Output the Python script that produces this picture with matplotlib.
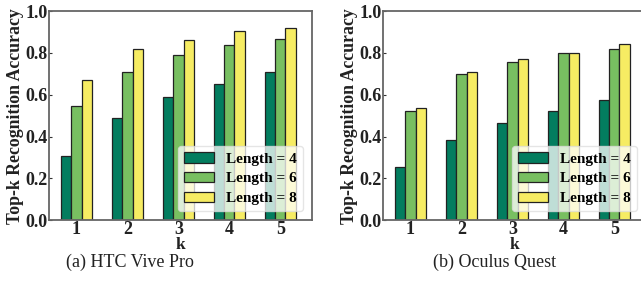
import matplotlib
matplotlib.use("Agg")
import matplotlib.pyplot as plt
import numpy as np

k_values = [1, 2, 3, 4, 5]
series_labels = ["Length = 4", "Length = 6", "Length = 8"]

htc_len4 = [0.308, 0.488, 0.587, 0.652, 0.710]
htc_len6 = [0.545, 0.711, 0.789, 0.839, 0.868]
htc_len8 = [0.673, 0.817, 0.864, 0.903, 0.919]

quest_len4 = [0.252, 0.381, 0.463, 0.522, 0.574]
quest_len6 = [0.523, 0.697, 0.759, 0.802, 0.821]
quest_len8 = [0.537, 0.707, 0.772, 0.802, 0.845]

captions = ["(a) HTC Vive Pro", "(b) Oculus Quest"]

plt.rcParams['font.family'] = ['Liberation Serif', 'DejaVu Serif']

colors = ["#037d5f", "#78bf61", "#f6ec63"]

fig = plt.figure(figsize=(6.41, 2.95), dpi=100)
ax_positions = [[0.0764, 0.254, 0.410, 0.708], [0.5975, 0.254, 0.410, 0.708]]
datasets = [[htc_len4, htc_len6, htc_len8], [quest_len4, quest_len6, quest_len8]]
caption_x = [0.203, 0.771]

w = 0.205
x = np.array(k_values, dtype=float)
for pos, data, cap, cx in zip(ax_positions, datasets, captions, caption_x):
    ax = fig.add_axes(pos)
    for i, (vals, lab, c) in enumerate(zip(data, series_labels, colors)):
        ax.bar(x + (i - 1) * w, vals, width=w, color=c, edgecolor="#222222",
               linewidth=0.9, label=lab, zorder=2)
    ax.set_xlim(0.46, 5.62)
    ax.set_ylim(0, 1.0)
    ax.set_xticks(k_values)
    ax.set_yticks([0.0, 0.2, 0.4, 0.6, 0.8, 1.0])
    ax.set_yticklabels(["0.0", "0.2", "0.4", "0.6", "0.8", "1.0"])
    for lbl in ax.get_xticklabels() + ax.get_yticklabels():
        lbl.set_fontweight("bold")
        lbl.set_fontsize(13)
    ax.tick_params(direction="in", length=2, width=0.8, pad=1, colors="#333333",
                   labelcolor="#222222")
    for sp in ax.spines.values():
        sp.set_color("#666666")
        sp.set_linewidth(1.3)
    ax.set_xlabel("k", fontsize=12.5, fontweight="bold", labelpad=-1, color="#222222")
    ax.set_ylabel("Top-k Recognition Accuracy", fontsize=12.8, fontweight="bold",
                  labelpad=1, color="#222222")
    leg = ax.legend(loc="lower right", bbox_to_anchor=(0.985, 0.02),
                    prop={"weight": "bold", "size": 11}, framealpha=0.75,
                    edgecolor="#dddddd", handlelength=2.0, borderpad=0.4,
                    labelspacing=0.4, handletextpad=0.8, borderaxespad=0.3)
    leg.set_zorder(5)
    fig.text(cx, 0.11, cap, ha="center", va="center", fontsize=13, color="#222222")

fig.savefig("out.png", dpi=100)
